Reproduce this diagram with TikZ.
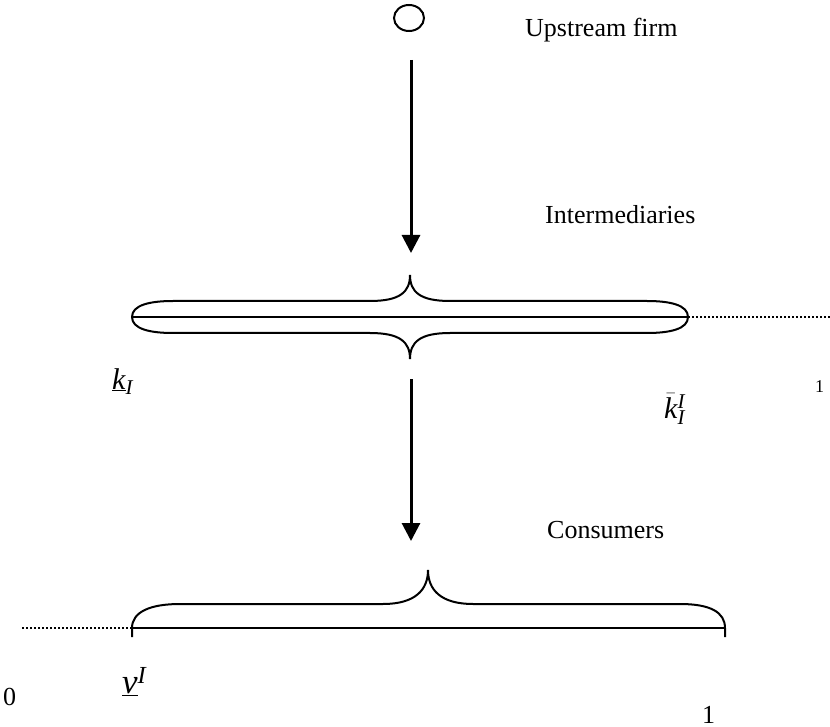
\documentclass[tikz,border=0pt]{standalone}
\usepackage{fontspec}
\setmainfont{Liberation Serif}
\usetikzlibrary{arrows.meta,shapes.geometric,positioning,calc}

\begin{document}
\begin{tikzpicture}[
  x=1pt,y=-1pt,
  lbl/.style ={inner sep=0pt,anchor=base west,font=\fontsize{26}{30}\selectfont},
  slbl/.style={inner sep=0pt,anchor=base west,font=\fontsize{18}{22}\selectfont},
  mlbl/.style={inner sep=0pt,anchor=base west,font=\fontsize{30}{36}\selectfont},
  blbl/.style={inner sep=0pt,anchor=base west,font=\fontsize{35}{42}\selectfont},
  arrow/.style={-{Triangle[length=18pt,width=18pt]},line width=3pt},
  brc/.style ={line width=2pt},
  dots/.style={line width=2pt,dash pattern=on 2pt off 2pt},
]
\useasboundingbox (0,0) rectangle (830,727);
% top: the firm
\node[draw,ellipse,line width=2pt,minimum width=30pt,minimum height=26pt,inner sep=0pt] (firm) at (409,18) {};
\node[lbl] (up) at (525,37) {Upstream firm};
\coordinate (arrIn) at (411,60);
\coordinate (arrIt) at (411,253);
\draw[arrow] (arrIn) -- (arrIt);
\node[lbl] (inter) at (545,224) {Intermediaries};
% intermediaries segment
\coordinate (kl) at (132,317);
\coordinate (kr) at (688,317);
\coordinate (one) at (830,317);
\draw[brc] (kl) -- (kr);
\draw[dots] (kr) -- (one);
\draw[brc] (kl) .. controls (132,305) and (150,301) .. (173,301) -- (370,301)
  .. controls (400,301) and (410,292) .. (410,275)
  .. controls (410,292) and (420,301) .. (450,301) -- (647,301)
  .. controls (670,301) and (688,305) .. (kr);
\draw[brc] (kl) .. controls (132,329) and (150,333) .. (173,333) -- (370,333)
  .. controls (400,333) and (410,342) .. (410,359)
  .. controls (410,342) and (420,333) .. (450,333) -- (647,333)
  .. controls (670,333) and (688,329) .. (kr);
\node[mlbl] (klo) at (112,389) {$\underline{\mathit{k}}_{\mathit{I}}$};
\node[mlbl] (khi) at (664,418) {$\bar{\mathit{k}}^{\mathit{I}}_{\mathit{I}}$};
\node[slbl] (oneI) at (815,392) {1};
% consumers
\coordinate (arrCn) at (411,379);
\coordinate (arrCt) at (411,541);
\draw[arrow] (arrCn) -- (arrCt);
\node[lbl] (cons) at (547,538) {Consumers};
\coordinate (zero) at (22,628);
\coordinate (vl) at (132,628);
\coordinate (vr) at (725,628);
\draw[dots] (zero) -- (vl);
\draw[brc] (vl) -- (vr);
\draw[brc] (132,637) -- (vl) .. controls (132,612) and (150,604) .. (180,604) -- (383,604)
  .. controls (415,604) and (428,590) .. (428,570)
  .. controls (428,590) and (441,604) .. (473,604) -- (680,604)
  .. controls (710,604) and (725,612) .. (vr) -- (725,637);
\node[lbl] (zeroC) at (3,705) {0};
\node[blbl] (vlo) at (122,693) {$\underline{\mathit{v}}^{\mathit{I}}$};
\node[lbl] (oneC) at (702,723) {1};
\end{tikzpicture}
\end{document}
